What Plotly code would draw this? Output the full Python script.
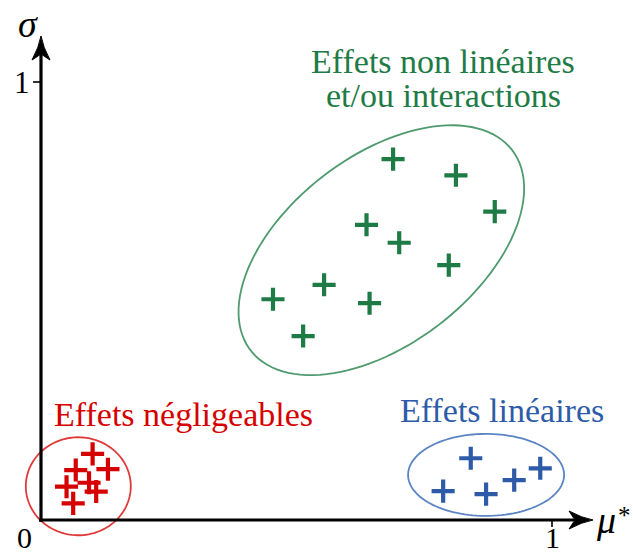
import numpy as np
import plotly.graph_objects as go

# ---- data ----
green_x = [0.689, 0.812, 0.888, 0.637, 0.701, 0.798, 0.554, 0.454, 0.643, 0.513]
green_y = [0.824, 0.787, 0.704, 0.674, 0.633, 0.582, 0.537, 0.504, 0.495, 0.420]
red_x = [0.101, 0.131, 0.068, 0.094, 0.108, 0.050, 0.063]
red_y = [0.151, 0.116, 0.114, 0.085, 0.065, 0.076, 0.038]
blue_x = [0.841, 0.977, 0.926, 0.787, 0.871]
blue_y = [0.141, 0.118, 0.091, 0.066, 0.059]

tick_labels_x = ["0", "1"]
tick_labels_y = ["1"]

GREEN = "#1e7b45"
GREEN_L = "#4f9a6e"
RED = "#d60000"
RED_L = "#e03a3a"
BLUE = "#2d5ba8"
BLUE_L = "#5b84c4"
SERIF = "Liberation Serif"

W, H = 633, 554
X0PX, SX = 41, 511.0
Y0PX, SY = 520, 438.0
xr = [-X0PX / SX, (W - X0PX) / SX]
yr = [(Y0PX - H) / SY, Y0PX / SY]

fig = go.Figure()

def pts(x, y, color):
    fig.add_trace(go.Scatter(
        x=x, y=y, mode="markers",
        marker=dict(symbol="cross-thin", size=16.5,
                    line=dict(color=color, width=4.2)),
        hoverinfo="skip", showlegend=False))

pts(green_x, green_y, GREEN)
pts(red_x, red_y, RED)
pts(blue_x, blue_y, BLUE)

def ellipse_path(a, b, ang_deg, n=120):
    t = np.linspace(0, 2 * np.pi, n)
    th = np.deg2rad(ang_deg)
    xs = a * np.cos(t) * np.cos(th) - b * np.sin(t) * np.sin(th)
    ys = a * np.cos(t) * np.sin(th) + b * np.sin(t) * np.cos(th)
    return "M" + " L".join(f"{x:.2f},{y:.2f}" for x, y in zip(xs, ys)) + " Z"

def ell(cx, cy, a, b, ang, color):
    fig.add_shape(type="path", xref="x", yref="y",
                  xsizemode="pixel", ysizemode="pixel",
                  xanchor=cx, yanchor=cy,
                  path=ellipse_path(a, b, ang),
                  line=dict(color=color, width=1.8))

ell(0.666, 0.616, 164.7, 94.2, 37.4, GREEN_L)
ell(0.073, 0.077, 52.5, 49.0, 0, RED_L)
ell(0.871, 0.103, 78.0, 41.0, 0, BLUE_L)

# axes
x_tip = (593 - X0PX) / SX
y_tip = (Y0PX - 36) / SY
fig.add_shape(type="line", x0=-2 / SX, x1=x_tip - 12 / SX, y0=0, y1=0,
              line=dict(color="black", width=3.2))
fig.add_shape(type="line", x0=0, x1=0, y0=-2 / SY, y1=y_tip - 12 / SY,
              line=dict(color="black", width=3.2))
fig.add_shape(type="path", xsizemode="pixel", ysizemode="pixel",
              xanchor=x_tip, yanchor=0,
              path="M0,0 Q-11,2 -24,9 L-18,0 L-24,-9 Q-11,-2 0,0 Z",
              fillcolor="black", line=dict(color="black", width=1))
fig.add_shape(type="path", xsizemode="pixel", ysizemode="pixel",
              xanchor=0, yanchor=y_tip,
              path="M0,0 Q2,-11 9,-24 L0,-18 L-9,-24 Q-2,-11 0,0 Z",
              fillcolor="black", line=dict(color="black", width=1))
# ticks
fig.add_shape(type="line", xsizemode="pixel", xanchor=0, x0=-8, x1=0,
              y0=1, y1=1, line=dict(color="black", width=1.6))
fig.add_shape(type="line", ysizemode="pixel", yanchor=0, y0=0, y1=-7,
              x0=1, x1=1, line=dict(color="black", width=1.6))

def txt(x, y, s, color, size, italic=False, xanchor="center"):
    fig.add_annotation(x=x, y=y, text=s, showarrow=False,
                       xanchor=xanchor, yanchor="middle",
                       font=dict(family=SERIF, size=size, color=color,
                                 style="italic" if italic else "normal"))

txt((443 - X0PX) / SX, (Y0PX - 61) / SY, "Effets non linéaires", GREEN, 34)
txt((443 - X0PX) / SX, (Y0PX - 95) / SY, "et/ou interactions", GREEN, 34)
txt((183 - X0PX) / SX, (Y0PX - 414) / SY, "Effets négligeables", RED, 34)
txt((502 - X0PX) / SX, (Y0PX - 410) / SY, "Effets linéaires", BLUE, 34)

txt((28 - X0PX) / SX, (Y0PX - 24) / SY, "σ", "black", 38, italic=True)
txt((606 - X0PX) / SX, (Y0PX - 520) / SY, "μ", "black", 38, italic=True)
txt((633 - X0PX) / SX, (Y0PX - 515) / SY, "*", "black", 25, xanchor="right")
txt((22 - X0PX) / SX, 1, tick_labels_y[0], "black", 31)
txt((24 - X0PX) / SX, (Y0PX - 537) / SY, tick_labels_x[0], "black", 30)
txt(1, (Y0PX - 537) / SY, tick_labels_x[1], "black", 30)

fig.update_layout(
    width=W, height=H, margin=dict(l=0, r=0, t=0, b=0),
    paper_bgcolor="white", plot_bgcolor="white",
    xaxis=dict(range=xr, visible=False, fixedrange=True),
    yaxis=dict(range=yr, visible=False, fixedrange=True),
    showlegend=False,
)
fig.write_html("out.html", config={"displayModeBar": False},
               post_script="document.body.style.margin='0';document.body.style.overflow='hidden';")
